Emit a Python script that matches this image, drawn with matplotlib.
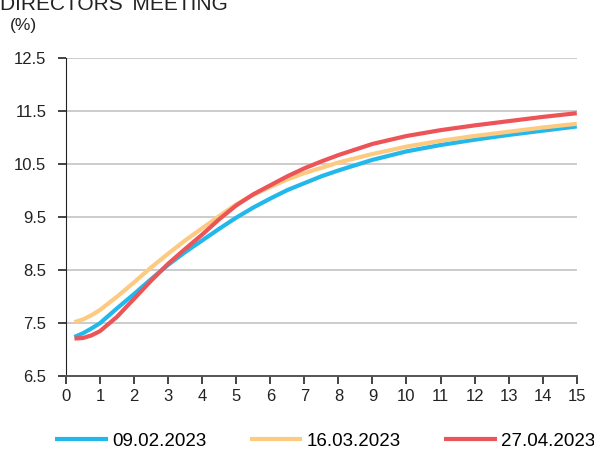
import matplotlib
matplotlib.use("Agg")
import matplotlib.pyplot as plt

plt.rcParams["font.family"] = ["Liberation Sans", "DejaVu Sans"]

# maturity in years
maturity = [0.25, 0.5, 0.75, 1, 1.5, 2, 2.5, 3, 3.5, 4, 4.5, 5, 5.5, 6, 6.5, 7, 7.5, 8,
            9, 10, 11, 12, 13, 14, 15]

curve_0902 = [7.24, 7.31, 7.40, 7.50, 7.78, 8.05, 8.33, 8.60, 8.84, 9.06, 9.28, 9.49,
              9.68, 9.85, 10.01, 10.14, 10.27, 10.38, 10.58, 10.74, 10.86, 10.96,
              11.05, 11.13, 11.21]
curve_1603 = [7.52, 7.57, 7.65, 7.75, 8.00, 8.27, 8.55, 8.81, 9.06, 9.29, 9.52, 9.74,
              9.92, 10.07, 10.21, 10.33, 10.43, 10.53, 10.69, 10.83, 10.94, 11.03,
              11.11, 11.19, 11.26]
curve_2704 = [7.21, 7.22, 7.27, 7.35, 7.62, 7.96, 8.30, 8.62, 8.90, 9.17, 9.46, 9.72,
              9.93, 10.10, 10.27, 10.42, 10.55, 10.67, 10.88, 11.03, 11.14, 11.23,
              11.31, 11.39, 11.46]

labels = ["09.02.2023", "16.03.2023", "27.04.2023"]
colors = ["#22b8ec", "#fdca82", "#ec5457"]

fig = plt.figure(figsize=(5.94, 4.5), dpi=100)
ax = fig.add_axes([0.111, 0.164, 0.860, 0.707])

for ys, lab, c in zip([curve_0902, curve_1603, curve_2704], labels, colors):
    ax.plot(maturity, ys, color=c, lw=3.0, label=lab, solid_capstyle="butt",
            solid_joinstyle="round")

ax.set_xlim(0, 15)
ax.set_ylim(6.5, 12.5)
ax.set_xticks(range(0, 16))
ax.set_yticks([6.5, 7.5, 8.5, 9.5, 10.5, 11.5, 12.5])
ax.set_yticklabels(["6.5", "7.5", "8.5", "9.5", "10.5", "11.5", "12.5"])
ax.yaxis.grid(True, color="#c4c4c4", lw=1.2)
ax.set_axisbelow(True)
for s in ["top", "right"]:
    ax.spines[s].set_visible(False)
ax.spines["left"].set_color("#222222")
ax.spines["bottom"].set_color("#555555")
ax.spines["bottom"].set_linewidth(1.4)
ax.tick_params(axis="both", labelsize=12, colors="#222222", length=6, width=1.2)
ax.tick_params(axis="y", pad=8)

fig.text(0.0, 1 - 10 / 450, "DIRECTORS' MEETING", fontsize=15, color="#222222",
         va="baseline", ha="left")
fig.text(0.017, 1 - 30 / 450, "(%)", fontsize=12.5, color="#222222",
         va="baseline", ha="left")

fig.legend(loc="center left", bbox_to_anchor=(55 / 594, 1 - 441 / 450), ncol=3,
           frameon=False, fontsize=13.5, handlelength=2.8, columnspacing=2.3,
           handletextpad=0.25, borderpad=0, borderaxespad=0)

fig.savefig("out.png", dpi=100)
